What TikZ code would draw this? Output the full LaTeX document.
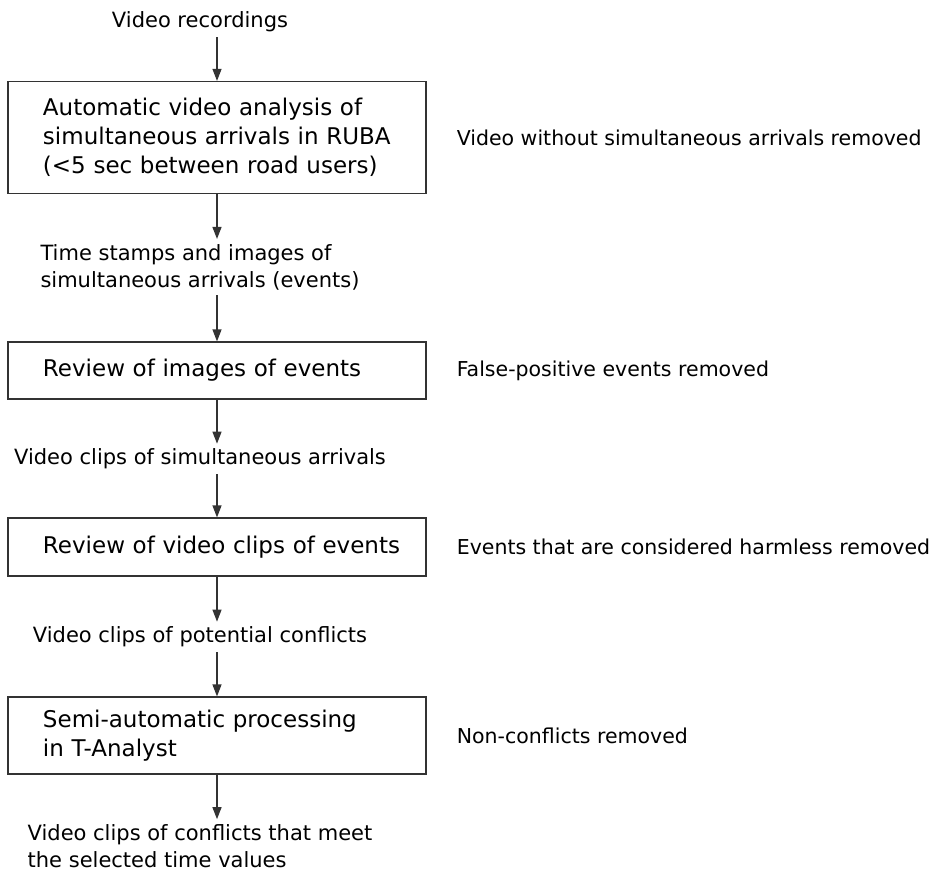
\documentclass[tikz,border=0pt]{standalone}
\usepackage{fontspec}
\setmainfont{DejaVu Sans}
\usetikzlibrary{arrows.meta,positioning}

\tikzset{
  stage/.style={draw=black!80, line width=1.2pt, text width=418pt, inner xsep=0pt,
    inner ysep=0pt, align=left, execute at begin node={\leftskip=35pt},
    font=\fontsize{23}{29}\selectfont},
  flow/.style={align=left, inner ysep=5pt, font=\fontsize{21}{27}\selectfont},
  drop/.style={inner sep=0pt, font=\fontsize{20.5}{24}\selectfont},
  arr/.style={-{Triangle[length=12pt,width=9pt]}, line width=1.2pt, draw=black!80},
}

\begin{document}
\begin{tikzpicture}[x=1pt,y=-1pt]
\useasboundingbox (0,0) rectangle (941,868);
% main column
\node[flow] (rec) at (200,22) {Video recordings};
\node[stage, minimum height=112pt] (ruba) at (217,137.5)
  {Automatic video analysis of\\simultaneous arrivals in RUBA\\(<5 sec between road users)};
\node[flow] (stamps) at (200,267)
  {Time stamps and images of\\simultaneous arrivals (events)};
\node[stage, minimum height=57pt] (imgrev) at (217,370.5) {Review of images of events};
\node[flow] (simclips) at (200,459) {Video clips of simultaneous arrivals};
\node[stage, minimum height=58pt] (cliprev) at (217,547) {Review of video clips of events};
\node[flow] (potclips) at (200,637) {Video clips of potential conflicts};
\node[stage, minimum height=77pt] (tanalyst) at (217,735.5)
  {Semi-automatic processing\\in T-Analyst};
\node[flow] (final) at (200,846)
  {Video clips of conflicts that meet\\the selected time values};
% removed items
\node[drop, right=30pt of ruba] (rm1) {Video without simultaneous arrivals removed};
\node[drop, right=30pt of imgrev] (rm2) {False-positive events removed};
\node[drop, right=30pt of cliprev] (rm3) {Events that are considered harmless removed};
\node[drop, right=30pt of tanalyst] (rm4) {Non-conflicts removed};
% arrows
\draw[arr] (rec.south -| ruba.north) -- (ruba.north);
\draw[arr] (ruba.south) -- (stamps.north -| ruba.south);
\draw[arr] (stamps.south -| imgrev.north) -- (imgrev.north);
\draw[arr] (imgrev.south) -- (simclips.north -| imgrev.south);
\draw[arr] (simclips.south -| cliprev.north) -- (cliprev.north);
\draw[arr] (cliprev.south) -- (potclips.north -| cliprev.south);
\draw[arr] (potclips.south -| tanalyst.north) -- (tanalyst.north);
\draw[arr] (tanalyst.south) -- (final.north -| tanalyst.south);
\end{tikzpicture}
\end{document}
